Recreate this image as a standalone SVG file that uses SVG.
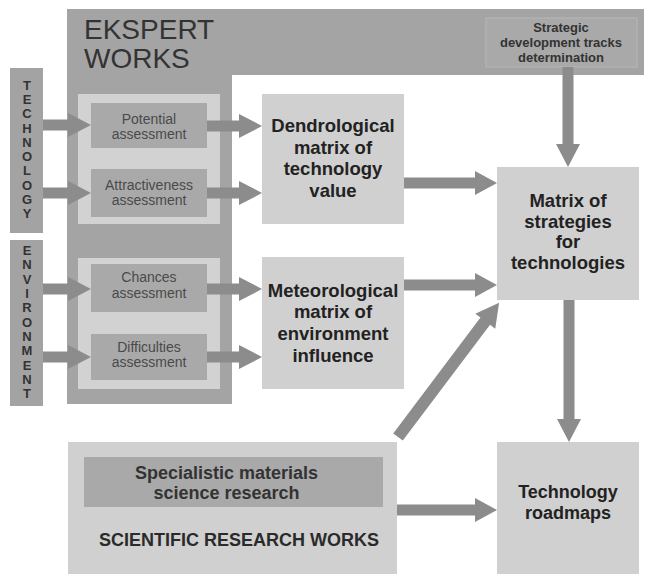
<svg xmlns="http://www.w3.org/2000/svg" width="646" height="574" viewBox="0 0 646 574">
<style>
.bg{fill:#ffffff}
.dark{fill:#a4a4a4}
.bar{fill:#a3a3a3}
.grp{fill:#d2d2d2}
.ass{fill:#a9a9a9}
.box{fill:#d0d0d0}
.arr{fill:#8c8c8c}
.t-big{font-family:"Liberation Sans",Arial,sans-serif;font-size:28px;fill:#333333}
.t-ass{font-family:"Liberation Sans",Arial,sans-serif;font-size:14px;fill:#4a4a4a;text-anchor:middle}
.t-b{font-family:"Liberation Sans",Arial,sans-serif;font-size:18.5px;font-weight:bold;fill:#222222;text-anchor:middle}
.t-s{font-family:"Liberation Sans",Arial,sans-serif;font-size:13px;font-weight:bold;fill:#333333;text-anchor:middle}
.t-v{font-family:"Liberation Sans",Arial,sans-serif;font-size:13px;font-weight:bold;fill:#333333;text-anchor:middle}
</style>
<rect class="bg" x="0" y="0" width="646" height="574"/>

<g id="ekspert-works">
<path class="dark" d="M67,9 H644 V75 H232 V404 H67 Z"/>
<text class="t-big" x="84" y="39">EKSPERT</text>
<text class="t-big" x="84" y="68">WORKS</text>
</g>

<g id="strategic-tracks">
<rect x="486" y="18" width="151" height="49" fill="#a9a9a9" stroke="#b5b5b5" stroke-width="1.2"/>
<text class="t-s" x="561" y="31.5">Strategic</text>
<text class="t-s" x="561" y="46.5">development tracks</text>
<text class="t-s" x="561" y="61.5">determination</text>
</g>

<g id="technology">
<rect class="bar" x="10" y="68" width="33" height="165"/>
<text class="t-v" x="27" y="90"><tspan x="27">T</tspan><tspan x="27" dy="14.22">E</tspan><tspan x="27" dy="14.22">C</tspan><tspan x="27" dy="14.22">H</tspan><tspan x="27" dy="14.22">N</tspan><tspan x="27" dy="14.22">O</tspan><tspan x="27" dy="14.22">L</tspan><tspan x="27" dy="14.22">O</tspan><tspan x="27" dy="14.22">G</tspan><tspan x="27" dy="14.22">Y</tspan></text>
</g>

<g id="environment">
<rect class="bar" x="10" y="240" width="33" height="166"/>
<text class="t-v" x="27" y="255"><tspan x="27">E</tspan><tspan x="27" dy="14.33">N</tspan><tspan x="27" dy="14.33">V</tspan><tspan x="27" dy="14.33">I</tspan><tspan x="27" dy="14.33">R</tspan><tspan x="27" dy="14.33">O</tspan><tspan x="27" dy="14.33">N</tspan><tspan x="27" dy="14.33">M</tspan><tspan x="27" dy="14.33">E</tspan><tspan x="27" dy="14.33">N</tspan><tspan x="27" dy="14.33">T</tspan></text>
</g>

<g id="technology-group">
<rect class="grp" x="78" y="94" width="142" height="130"/>
</g>
<g id="environment-group">
<rect class="grp" x="78" y="258" width="142" height="131"/>
</g>

<g id="potential">
<rect class="ass" x="91" y="103" width="116" height="45"/>
<text class="t-ass" x="149" y="123.5">Potential</text>
<text class="t-ass" x="149" y="138.5">assessment</text>
</g>
<g id="attractiveness">
<rect class="ass" x="91" y="169" width="116" height="48"/>
<text class="t-ass" x="149" y="190">Attractiveness</text>
<text class="t-ass" x="149" y="205">assessment</text>
</g>
<g id="chances">
<rect class="ass" x="91" y="264" width="116" height="48"/>
<text class="t-ass" x="149" y="282">Chances</text>
<text class="t-ass" x="149" y="297.5">assessment</text>
</g>
<g id="difficulties">
<rect class="ass" x="91" y="334" width="116" height="46"/>
<text class="t-ass" x="149" y="351.5">Difficulties</text>
<text class="t-ass" x="149" y="366.5">assessment</text>
</g>

<g id="dendrological">
<rect class="box" x="262" y="94" width="142" height="130"/>
<text class="t-b" x="333" y="132">Dendrological</text>
<text class="t-b" x="333" y="153.7">matrix of</text>
<text class="t-b" x="333" y="175.4">technology</text>
<text class="t-b" x="333" y="197">value</text>
</g>

<g id="meteorological">
<rect class="box" x="262" y="257" width="142" height="132"/>
<text class="t-b" x="333" y="296.5">Meteorological</text>
<text class="t-b" x="333" y="318.2">matrix of</text>
<text class="t-b" x="333" y="339.9">environment</text>
<text class="t-b" x="333" y="361.5">influence</text>
</g>

<g id="matrix-strategies">
<rect class="box" x="497" y="167" width="142" height="133"/>
<text class="t-b" x="568" y="207">Matrix of</text>
<text class="t-b" x="568" y="227.5">strategies</text>
<text class="t-b" x="568" y="248">for</text>
<text class="t-b" x="568" y="268.5">technologies</text>
</g>

<g id="scientific-research">
<rect class="box" x="68" y="442" width="329" height="132"/>
<rect class="ass" x="84" y="457" width="299" height="50"/>
<text class="t-b" x="226.5" y="479" style="font-size:18px;fill:#333333">Specialistic materials</text>
<text class="t-b" x="226.5" y="499" style="font-size:18px;fill:#333333">science research</text>
<text class="t-b" x="239" y="546" style="font-size:18px;fill:#2a2a2a">SCIENTIFIC RESEARCH WORKS</text>
</g>

<g id="roadmaps">
<rect class="box" x="497" y="442" width="142" height="132"/>
<text class="t-b" x="568" y="498" style="font-size:18px">Technology</text>
<text class="t-b" x="568" y="518.5" style="font-size:18px">roadmaps</text>
</g>

<g id="connectors">
<polygon class="arr" points="43,119.5 68,119.5 68,113 91,125 68,137 68,130.5 43,130.5"/>
<polygon class="arr" points="43,187.5 68,187.5 68,181 91,193 68,205 68,198.5 43,198.5"/>
<polygon class="arr" points="43,283.5 68,283.5 68,277 91,289 68,301 68,294.5 43,294.5"/>
<polygon class="arr" points="43,351.5 68,351.5 68,345 91,357 68,369 68,362.5 43,362.5"/>
<polygon class="arr" points="207,120.5 239,120.5 239,114 262,126 239,138 239,131.5 207,131.5"/>
<polygon class="arr" points="207,187.5 239,187.5 239,181 262,193 239,205 239,198.5 207,198.5"/>
<polygon class="arr" points="207,283.5 239,283.5 239,277 262,289 239,301 239,294.5 207,294.5"/>
<polygon class="arr" points="207,351.5 239,351.5 239,345 262,357 239,369 239,362.5 207,362.5"/>
<polygon class="arr" points="404,177.5 475,177.5 475,171 497,183 475,195 475,188.5 404,188.5"/>
<polygon class="arr" points="404,279.5 475,279.5 475,273 497,285 475,297 475,290.5 404,290.5"/>
<polygon class="arr" points="397,504.5 475,504.5 475,498 497,510 475,522 475,515.5 397,515.5"/>
<polygon class="arr" points="562.5,67 573.5,67 573.5,144 580,144 568,167 556,144 562.5,144"/>
<polygon class="arr" points="563.5,300 574.5,300 574.5,419 581,419 569,442 557,419 563.5,419"/>
<polygon class="arr" transform="translate(398,437) rotate(-53)" points="0,-6 145,-6 145,-12.5 168,0 145,12.5 145,6 0,6"/>
</g>
</svg>
